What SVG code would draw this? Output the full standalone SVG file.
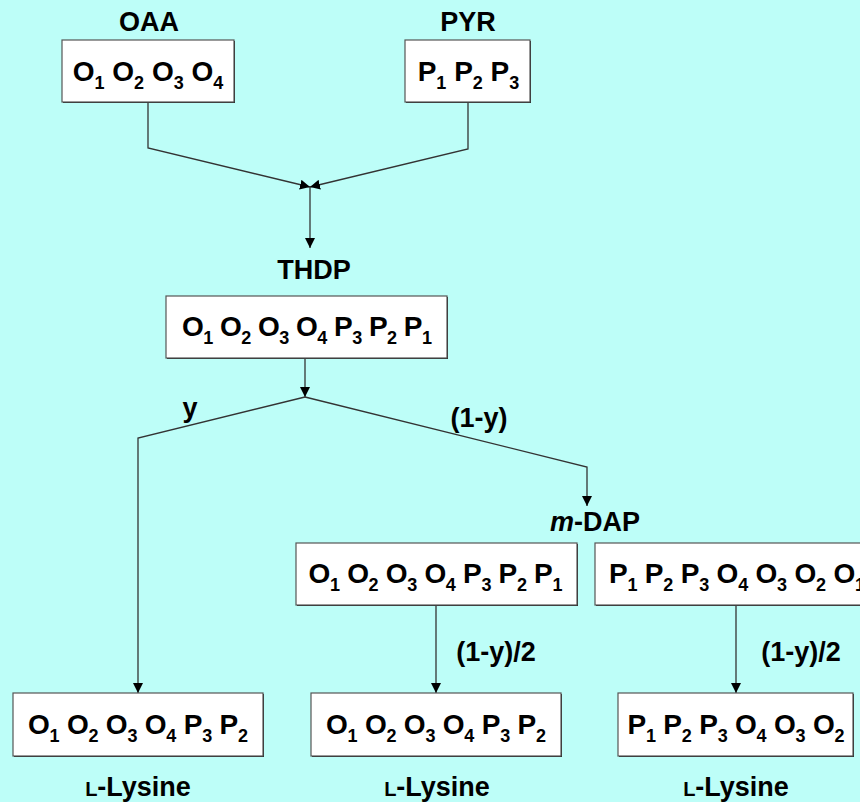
<svg xmlns="http://www.w3.org/2000/svg" width="860" height="802" viewBox="0 0 860 802">
  <defs>
    <marker id="arrow" markerUnits="userSpaceOnUse" markerWidth="10" markerHeight="10" refX="10" refY="5" orient="auto">
      <path d="M0,0 L10,5 L0,10 z" fill="#000"/>
    </marker>
    <style>
      text { font-family: "Liberation Sans", Arial, sans-serif; font-weight: bold; fill: #000; }
      .lbl { font-size: 27px; text-anchor: middle; }
      .box { fill: #fff; stroke: #555; stroke-width: 1.2; }
      .shadow { fill: #222; }
      .seq { font-size: 28px; text-anchor: middle; }
      .sub { font-size: 18px; }
      .sc { font-size: 20px; }
      .edge { fill: none; stroke: #333; stroke-width: 1.3; marker-end: url(#arrow); }
    </style>
  </defs>

  <rect width="860" height="802" fill="#BDFEF8"/>

  <!-- connectors -->
  <g id="connectors">
    <path class="edge" d="M148,102 V148 L310,187"/>
    <path class="edge" d="M468,102 V149 L310,187"/>
    <path class="edge" d="M310,187 V248"/>
    <path class="edge" d="M305,358 V397"/>
    <path class="edge" d="M305,397 L138,438 V693"/>
    <path class="edge" d="M305,397 L587,467 V506"/>
    <path class="edge" d="M436,605 V693"/>
    <path class="edge" d="M736,605 V693"/>
  </g>

  <!-- edge labels -->
  <g id="edge-labels">
    <text class="lbl" x="190" y="417">y</text>
    <text class="lbl" x="479" y="427">(1-y)</text>
    <text class="lbl" x="496" y="661">(1-y)/2</text>
    <text class="lbl" x="801" y="661">(1-y)/2</text>
  </g>

  <!-- oxaloacetate -->
  <g id="oaa">
    <text class="lbl" x="149" y="31">OAA</text>
    <rect class="shadow" x="63" y="41" width="172" height="62"/>
    <rect class="box" x="62" y="40" width="172" height="62"/>
    <text class="seq" x="148" y="81">O<tspan class="sub" dy="8">1</tspan><tspan dy="-8"> O</tspan><tspan class="sub" dy="8">2</tspan><tspan dy="-8"> O</tspan><tspan class="sub" dy="8">3</tspan><tspan dy="-8"> O</tspan><tspan class="sub" dy="8">4</tspan></text>
  </g>

  <!-- pyruvate -->
  <g id="pyr">
    <text class="lbl" x="468" y="31">PYR</text>
    <rect class="shadow" x="406" y="41" width="125" height="62"/>
    <rect class="box" x="405" y="40" width="125" height="62"/>
    <text class="seq" x="468.5" y="81">P<tspan class="sub" dy="8">1</tspan><tspan dy="-8"> P</tspan><tspan class="sub" dy="8">2</tspan><tspan dy="-8"> P</tspan><tspan class="sub" dy="8">3</tspan></text>
  </g>

  <!-- tetrahydrodipicolinate -->
  <g id="thdp">
    <text class="lbl" x="314" y="279">THDP</text>
    <rect class="shadow" x="167" y="297" width="281" height="62"/>
    <rect class="box" x="166" y="296" width="281" height="62"/>
    <text class="seq" x="307" y="336" textLength="250">O<tspan class="sub" dy="8">1</tspan><tspan dy="-8"> O</tspan><tspan class="sub" dy="8">2</tspan><tspan dy="-8"> O</tspan><tspan class="sub" dy="8">3</tspan><tspan dy="-8"> O</tspan><tspan class="sub" dy="8">4</tspan><tspan dy="-8"> P</tspan><tspan class="sub" dy="8">3</tspan><tspan dy="-8"> P</tspan><tspan class="sub" dy="8">2</tspan><tspan dy="-8"> P</tspan><tspan class="sub" dy="8">1</tspan></text>
  </g>

  <!-- meso-diaminopimelate, two orientations -->
  <g id="mdap">
    <text class="lbl" x="595" y="531"><tspan font-style="italic">m</tspan>-DAP</text>
    <rect class="shadow" x="297" y="544" width="281" height="62"/>
    <rect class="box" x="296" y="543" width="281" height="62"/>
    <text class="seq" x="435.5" y="583" textLength="254">O<tspan class="sub" dy="8">1</tspan><tspan dy="-8"> O</tspan><tspan class="sub" dy="8">2</tspan><tspan dy="-8"> O</tspan><tspan class="sub" dy="8">3</tspan><tspan dy="-8"> O</tspan><tspan class="sub" dy="8">4</tspan><tspan dy="-8"> P</tspan><tspan class="sub" dy="8">3</tspan><tspan dy="-8"> P</tspan><tspan class="sub" dy="8">2</tspan><tspan dy="-8"> P</tspan><tspan class="sub" dy="8">1</tspan></text>
  </g>
  <g id="mdap-rev">
    <rect class="shadow" x="596" y="544" width="290" height="62"/>
    <rect class="box" x="595" y="543" width="290" height="62"/>
    <text class="seq" x="737" y="583" textLength="256">P<tspan class="sub" dy="8">1</tspan><tspan dy="-8"> P</tspan><tspan class="sub" dy="8">2</tspan><tspan dy="-8"> P</tspan><tspan class="sub" dy="8">3</tspan><tspan dy="-8"> O</tspan><tspan class="sub" dy="8">4</tspan><tspan dy="-8"> O</tspan><tspan class="sub" dy="8">3</tspan><tspan dy="-8"> O</tspan><tspan class="sub" dy="8">2</tspan><tspan dy="-8"> O</tspan><tspan class="sub" dy="8">1</tspan></text>
  </g>

  <!-- L-lysine products -->
  <g id="lys-1">
    <rect class="shadow" x="14" y="694" width="250" height="63"/>
    <rect class="box" x="13" y="693" width="250" height="63"/>
    <text class="seq" x="138" y="734" textLength="220">O<tspan class="sub" dy="8">1</tspan><tspan dy="-8"> O</tspan><tspan class="sub" dy="8">2</tspan><tspan dy="-8"> O</tspan><tspan class="sub" dy="8">3</tspan><tspan dy="-8"> O</tspan><tspan class="sub" dy="8">4</tspan><tspan dy="-8"> P</tspan><tspan class="sub" dy="8">3</tspan><tspan dy="-8"> P</tspan><tspan class="sub" dy="8">2</tspan></text>
    <text class="lbl" x="138" y="796"><tspan class="sc">L</tspan>-Lysine</text>
  </g>
  <g id="lys-2">
    <rect class="shadow" x="312" y="694" width="250" height="63"/>
    <rect class="box" x="311" y="693" width="250" height="63"/>
    <text class="seq" x="436" y="734" textLength="220">O<tspan class="sub" dy="8">1</tspan><tspan dy="-8"> O</tspan><tspan class="sub" dy="8">2</tspan><tspan dy="-8"> O</tspan><tspan class="sub" dy="8">3</tspan><tspan dy="-8"> O</tspan><tspan class="sub" dy="8">4</tspan><tspan dy="-8"> P</tspan><tspan class="sub" dy="8">3</tspan><tspan dy="-8"> P</tspan><tspan class="sub" dy="8">2</tspan></text>
    <text class="lbl" x="437" y="796"><tspan class="sc">L</tspan>-Lysine</text>
  </g>
  <g id="lys-3">
    <rect class="shadow" x="619" y="694" width="235" height="63"/>
    <rect class="box" x="618" y="693" width="235" height="63"/>
    <text class="seq" x="736" y="734" textLength="217">P<tspan class="sub" dy="8">1</tspan><tspan dy="-8"> P</tspan><tspan class="sub" dy="8">2</tspan><tspan dy="-8"> P</tspan><tspan class="sub" dy="8">3</tspan><tspan dy="-8"> O</tspan><tspan class="sub" dy="8">4</tspan><tspan dy="-8"> O</tspan><tspan class="sub" dy="8">3</tspan><tspan dy="-8"> O</tspan><tspan class="sub" dy="8">2</tspan></text>
    <text class="lbl" x="736" y="796"><tspan class="sc">L</tspan>-Lysine</text>
  </g>
</svg>
